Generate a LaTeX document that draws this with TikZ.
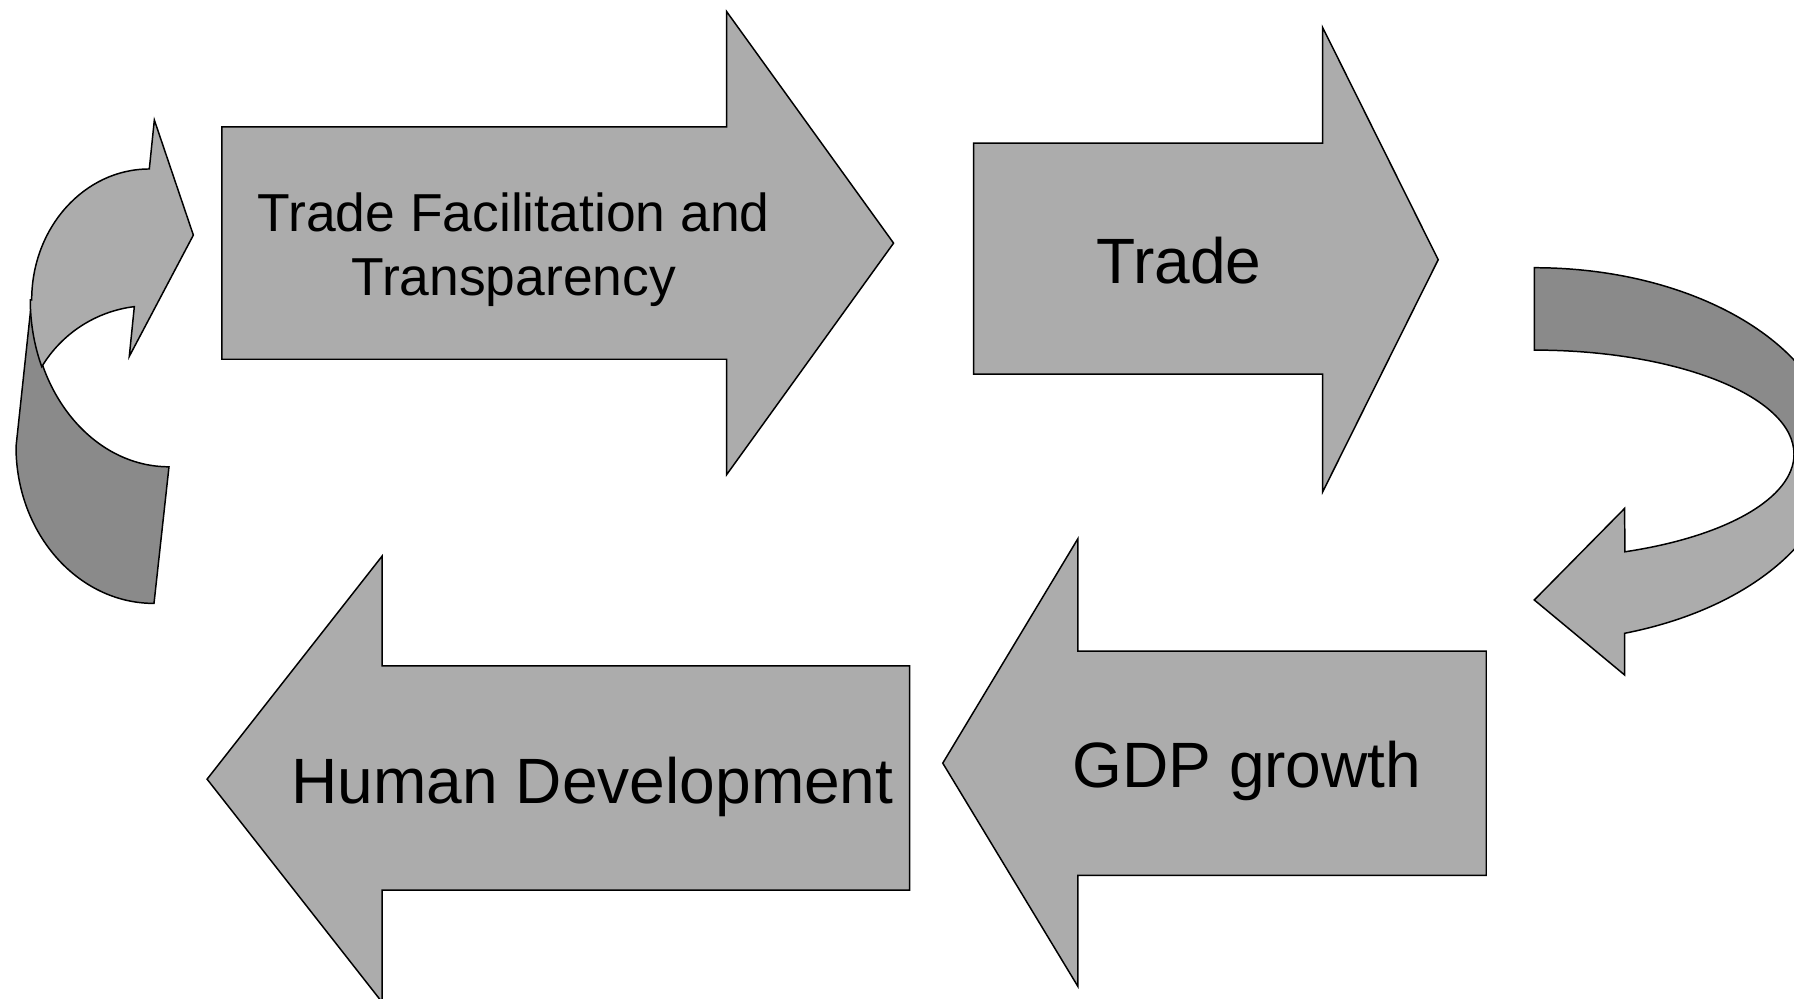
\documentclass[tikz,border=0pt]{standalone}
\usepackage{fontspec}
\setmainfont{Liberation Sans}
\definecolor{lightgrey}{RGB}{172,172,172}
\definecolor{darkgrey}{RGB}{138,138,138}

\begin{document}
\begin{tikzpicture}[x=1pt,y=1pt,
    front/.style={draw=black,line width=1.3pt,fill=lightgrey},
    back/.style={front,fill=darkgrey},
    biglabel/.style={font=\fontsize{56}{67}\selectfont,inner sep=0pt},
    smalllabel/.style={font=\fontsize{46.7}{56}\selectfont,align=center,inner sep=0pt}
   ]
\useasboundingbox (0,0) rectangle (1568,873);
\clip (0,0) rectangle (1568,873);

% curl on the left, back side first
\draw[back] (27.7,610.8) -- (14,482.6)
    arc[start angle=180,end angle=270,x radius=120.6,y radius=137]
    -- (147.7,465)
    arc[start angle=270,end angle=180,x radius=120,y radius=145.8] -- cycle;
\draw[front] (27.7,610.8)
    arc[start angle=180,end angle=90,x radius=102.8,y radius=114.5]
    -- (134.9,768.1) -- (169,667.5) -- (113,561.5) -- (117.4,605)
    arc[start angle=97,end angle=149,radius=110]
    arc[start angle=203.6,end angle=180,x radius=120,y radius=145.8] -- cycle;

% curl on the right
\draw[back] (1341,639)
    arc[start angle=90,end angle=0,x radius=263,y radius=163]
    -- (1568,476)
    arc[start angle=0,end angle=90,x radius=227,y radius=91] -- cycle;
\draw[front] (1568,476)
    arc[start angle=0,end angle=-69.6,x radius=227,y radius=91]
    -- (1420,428.7) -- (1341,348.6) -- (1420,283) -- (1420,319.5)
    arc[start angle=-72.5,end angle=0,x radius=263,y radius=163] -- cycle;

% block arrows
\draw[front] (194,762) -- (635,762) -- (635,863) -- (781,660.5)
    -- (635,458) -- (635,559) -- (194,559) -- cycle;
\draw[front] (851,748) -- (1156,748) -- (1156,849) -- (1257,646)
    -- (1156,443) -- (1156,546) -- (851,546) -- cycle;
\draw[front] (1299,304) -- (942,304) -- (942,402) -- (824,206)
    -- (942,11) -- (942,108) -- (1299,108) -- cycle;
\draw[front] (795,291) -- (334,291) -- (334,387) -- (181,192)
    -- (334,-3) -- (334,95) -- (795,95) -- cycle;

\node[smalllabel] (facil) at (449,655) {Trade Facilitation and\\Transparency};
\node[biglabel,anchor=base] (trade) at (1030.5,625.4) {Trade};
\node[biglabel,anchor=base] (gdp) at (1089.8,185) {GDP growth};
\node[biglabel,anchor=base] (humdev) at (518,171) {Human Development};
\end{tikzpicture}
\end{document}
